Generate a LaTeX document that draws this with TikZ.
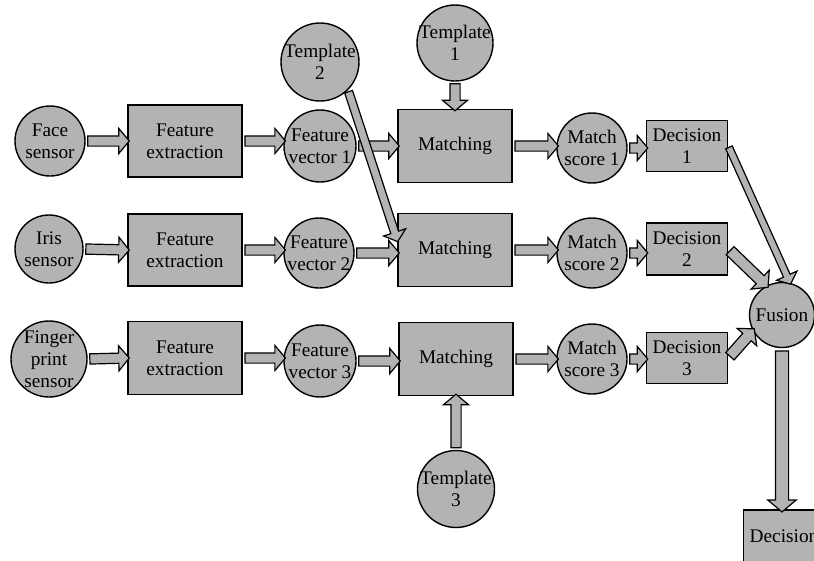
\documentclass[tikz,border=0pt]{standalone}
\usepackage{fontspec}
\setmainfont{Liberation Serif}
\usetikzlibrary{shapes.arrows}
\usetikzlibrary{calc}
\definecolor{boxgray}{RGB}{179,179,179}
\newcommand{\flow}[3][4.5pt]{%
	\path let \p1=(#2), \p2=(#3), \n1={veclen(\x2-\x1,\y2-\y1)}, \n2={atan2(\y2-\y1,\x2-\x1)} in
		node [fat, inner sep=#1, minimum height=\n1, rotate=\n2] at ($(\p1)!0.5!(\p2)$) {};}

\begin{document}
\begin{tikzpicture}[x=1pt,y=-1pt,font=\fontsize{19.3}{21.7}\selectfont,
	blob/.style={draw,shape=circle,fill=boxgray,line width=1.4pt,inner sep=0pt,minimum size=#1},
	blob/.default=70pt,
	block/.style={draw,rectangle,fill=boxgray,line width=1.7pt,align=center,minimum width=114pt,minimum height=72pt},
	dec/.style={block,minimum width=81pt,minimum height=51pt},
	fat/.style={draw,single arrow,fill=boxgray,line width=1.2pt,single arrow head extend=7.5pt,single arrow tip angle=100}]
	\useasboundingbox (0,0) rectangle (814,560);
	\clip (0,0) rectangle (814,560);
	% first row: face
	\draw (50,141) node(FS1) [blob,label={[align=center]center:Face\\sensor}] {};
	\draw (185,141) node(FE1) [block] {Feature\\extraction};
	\draw (320,146) node(FV1) [blob=72pt,label={[align=center]center:Feature\\vector 1}] {};
	\draw (455,146) node(M1) [block,minimum height=73pt] {Matching};
	\draw (592,148) node(MS1) [blob,label={[align=center]center:Match\\score 1}] {};
	\draw (687,146) node(D1) [dec] {Decision\\1};
	\draw (455,43) node(T1) [blob=76pt,label={[align=center]center:Template\\1}] {};
	\draw (320,62) node(T2) [blob=78pt,label={[align=center]center:Template\\2}] {};
	% second row: iris
	\draw (49,249) node(FS2) [blob=68pt,label={[align=center]center:Iris\\sensor}] {};
	\draw (185,250) node(FE2) [block] {Feature\\extraction};
	\draw (319,253) node(FV2) [blob,label={[align=center]center:Feature\\vector 2}] {};
	\draw (455,250) node(M2) [block,minimum height=73pt] {Matching};
	\draw (592,253) node(MS2) [blob,label={[align=center]center:Match\\score 2}] {};
	\draw (687,249) node(D2) [dec,minimum height=52pt] {Decision\\2};
	% third row: fingerprint
	\draw (49,359) node(FS3) [blob=76pt,label={[align=center]center:Finger\\print\\sensor}] {};
	\draw (185,358) node(FE3) [block,minimum height=73pt] {Feature\\extraction};
	\draw (320,361) node(FV3) [blob=72pt,label={[align=center]center:Feature\\vector 3}] {};
	\draw (456,359) node(M3) [block,minimum height=73pt] {Matching};
	\draw (592,359) node(MS3) [blob,label={[align=center]center:Match\\score 3}] {};
	\draw (687,358) node(D3) [dec] {Decision\\3};
	\draw (456,489) node(T3) [blob=77pt,label={[align=center]center:Template\\3}] {};
	% fusion
	\draw (782,315) node(Fu) [blob=65pt,label={center:Fusion}] {};
	\draw (784,536) node(D) [dec,minimum height=52pt] {Decision};
	% arrows
	\flow{FS1.east}{FE1.west}
	\flow{FE1.east}{FE1.east -| FV1.west}
	\flow{FV1.east}{M1.west}
	\flow{M1.east}{M1.east -| MS1.west}
	\flow{MS1.east}{MS1.east -| D1.west}
	\flow{T1.south}{M1.north}
	\flow{FS2.east}{FE2.west}
	\flow{FE2.east}{FE2.east -| FV2.west}
	\flow{FV2.east}{FV2.east -| M2.west}
	\flow{M2.east}{M2.east -| MS2.west}
	\flow{MS2.east}{MS2.east -| D2.west}
	\flow{FS3.east}{FE3.west}
	\flow{FE3.east}{FE3.east -| FV3.west}
	\flow{FV3.east}{FV3.east -| M3.west}
	\flow{M3.east}{M3.east -| MS3.west}
	\flow{MS3.east}{MS3.east -| D3.west}
	\flow{T3.north}{M3.south}
	\flow[3pt]{D1.east}{Fu.76}
	\flow[5pt]{D2.east}{Fu.118}
	\flow[5pt]{D3.east}{Fu.208}
	\flow[6pt]{Fu.south}{Fu.south |- D.north}
	\flow[3.5pt]{T2.-45}{[yshift=10pt]M2.west}
\end{tikzpicture}
\end{document}
